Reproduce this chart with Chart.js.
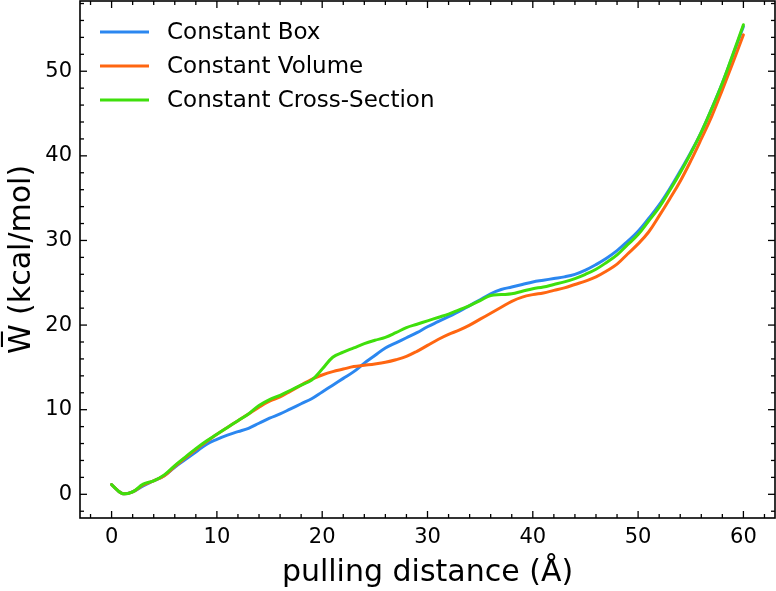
<!DOCTYPE html>
<html>
<head>
<meta charset="utf-8">
<script src="https://cdn.jsdelivr.net/npm/chart.js@4.4.1/dist/chart.umd.min.js"></script>
<style>
  html, body { margin: 0; padding: 0; background: #fff; }
  #wrap { width: 776px; height: 591px; }
</style>
</head>
<body>
<div id="wrap"><canvas id="c" width="776" height="591"></canvas></div>
<script>
const distance = [0,1,2,3,4,5,6,7,8,9,10,11,12,13,14,15,16,17,18,19,20,21,22,23,24,25,26,27,28,29,30,31,32,33,34,35,36,37,38,39,40,41,42,43,44,45,46,47,48,49,50,51,52,53,54,55,56,57,58,59,60];

const constantBox = [1.15,0.1,0.3,1.0,1.6,2.2,3.2,4.1,5.0,5.9,6.5,7.0,7.4,7.8,8.4,9.0,9.5,10.1,10.7,11.3,12.1,12.9,13.7,14.5,15.5,16.4,17.3,17.9,18.5,19.1,19.8,20.4,21.0,21.6,22.3,23.0,23.7,24.2,24.5,24.8,25.1,25.3,25.5,25.7,26.0,26.5,27.15,27.9,28.8,29.9,31.1,32.6,34.2,36.1,38.2,40.4,42.8,45.6,48.6,51.9,55.3];

const constantVolume = [1.15,0.1,0.3,1.1,1.6,2.2,3.3,4.3,5.3,6.2,7.1,7.9,8.7,9.5,10.3,11.0,11.5,12.2,12.9,13.6,14.1,14.5,14.8,15.1,15.25,15.4,15.6,15.9,16.3,16.9,17.6,18.3,18.9,19.4,20.0,20.7,21.4,22.1,22.8,23.3,23.6,23.8,24.1,24.4,24.8,25.2,25.7,26.4,27.2,28.4,29.6,31.0,32.9,34.9,37.0,39.4,42.0,44.7,47.8,51.0,54.3];

const constantCrossSection = [1.15,0.1,0.3,1.2,1.6,2.3,3.4,4.4,5.4,6.3,7.1,7.9,8.7,9.5,10.5,11.2,11.7,12.3,12.9,13.5,14.8,16.2,16.8,17.3,17.8,18.2,18.55,19.1,19.7,20.1,20.5,20.9,21.3,21.8,22.3,22.9,23.5,23.6,23.7,24.0,24.3,24.5,24.8,25.1,25.5,26.0,26.6,27.4,28.3,29.5,30.7,32.3,33.9,35.9,38.0,40.3,42.8,45.6,48.6,52.0,55.5];

const seriesNames = ['Constant Box', 'Constant Volume', 'Constant Cross-Section'];
const seriesColors = ['#2b87f0', '#ff6611', '#3fdf0c'];

const xTitle = 'pulling distance (Å)';
const yTitle = 'W\u0305 (kcal/mol)';

function pts(ys) { return distance.map((d, i) => ({ x: d, y: ys[i] })); }

const FONT = "'DejaVu Sans', sans-serif";

const framePlugin = {
  id: 'frame',
  afterDraw(chart) {
    const { ctx, chartArea: a, scales } = chart;
    const xs = scales.x, ys = scales.y;
    ctx.save();
    ctx.strokeStyle = '#000';
    ctx.lineWidth = 1.6;
    ctx.strokeRect(a.left, a.top, a.right - a.left, a.bottom - a.top);
    ctx.lineWidth = 1.3;
    const seg = (x1, y1, x2, y2) => { ctx.beginPath(); ctx.moveTo(x1, y1); ctx.lineTo(x2, y2); ctx.stroke(); };
    const xt = xs.ticks.map(t => t.value);
    const xStep = xt[1] - xt[0], xMinor = xStep / 5;
    for (let v = Math.ceil(xs.min / xMinor) * xMinor; v <= xs.max + 1e-9; v += xMinor) {
      const major = Math.abs(v / xStep - Math.round(v / xStep)) < 1e-6;
      const len = major ? 7 : 4;
      const px = xs.getPixelForValue(v);
      seg(px, a.bottom, px, a.bottom - len);
      seg(px, a.top, px, a.top + len);
    }
    const yt = ys.ticks.map(t => t.value);
    const yStep = yt[1] - yt[0], yMinor = yStep / 5;
    for (let v = Math.ceil(ys.min / yMinor) * yMinor; v <= ys.max + 1e-9; v += yMinor) {
      const major = Math.abs(v / yStep - Math.round(v / yStep)) < 1e-6;
      const len = major ? 7 : 4;
      const py = ys.getPixelForValue(v);
      seg(a.left, py, a.left + len, py);
      seg(a.right, py, a.right - len, py);
    }
    ctx.restore();
  }
};

const legendPlugin = {
  id: 'innerLegend',
  afterDatasetsDraw(chart) {
    const { ctx, chartArea: a } = chart;
    ctx.save();
    ctx.font = '23px ' + FONT;
    ctx.textBaseline = 'middle';
    ctx.fillStyle = '#000';
    const x0 = a.left + 20, lineLen = 49, gap = 18, top = a.top + 31, rowH = 34;
    chart.data.datasets.forEach((ds, i) => {
      const cy = top + i * rowH;
      ctx.strokeStyle = ds.borderColor;
      ctx.lineWidth = 3;
      ctx.beginPath(); ctx.moveTo(x0, cy); ctx.lineTo(x0 + lineLen, cy); ctx.stroke();
      ctx.fillText(ds.label, x0 + lineLen + gap, cy + 1);
    });
    ctx.restore();
  }
};

new Chart(document.getElementById('c'), {
  type: 'line',
  data: {
    datasets: [
      { label: seriesNames[0], data: pts(constantBox), borderColor: seriesColors[0], order: 3 },
      { label: seriesNames[1], data: pts(constantVolume), borderColor: seriesColors[1], order: 2 },
      { label: seriesNames[2], data: pts(constantCrossSection), borderColor: seriesColors[2], order: 1 }
    ]
  },
  options: {
    responsive: false,
    animation: false,
    devicePixelRatio: 1,
    layout: { padding: { top: 1, right: 1, left: 0, bottom: 0 } },
    elements: {
      line: { borderWidth: 3, tension: 0.4, fill: false, borderCapStyle: 'round', borderJoinStyle: 'round' },
      point: { radius: 0, hoverRadius: 0 }
    },
    plugins: { legend: { display: false }, tooltip: { enabled: false } },
    scales: {
      x: {
        type: 'linear',
        min: -3, max: 63,
        grid: { display: false, drawTicks: false },
        border: { display: false },
        ticks: { stepSize: 10, includeBounds: false, padding: 7, color: '#000', font: { family: FONT, size: 21 } },
        title: { display: true, text: xTitle, color: '#000', font: { family: FONT, size: 30 }, padding: { top: 4, bottom: 0 } },
        afterFit(scale) { scale.height = 73; scale.paddingLeft = 0; scale.paddingRight = 0; }
      },
      y: {
        type: 'linear',
        min: -2.8, max: 58.3,
        grid: { display: false, drawTicks: false },
        border: { display: false },
        ticks: { stepSize: 10, includeBounds: false, padding: 8, color: '#000', font: { family: FONT, size: 21 } },
        title: { display: true, text: yTitle, color: '#000', font: { family: FONT, size: 30 }, padding: { top: 4, bottom: 4 } },
        afterFit(scale) { scale.width = 80; scale.paddingTop = 0; scale.paddingBottom = 0; }
      }
    }
  },
  plugins: [framePlugin, legendPlugin]
});
</script>
</body>
</html>
